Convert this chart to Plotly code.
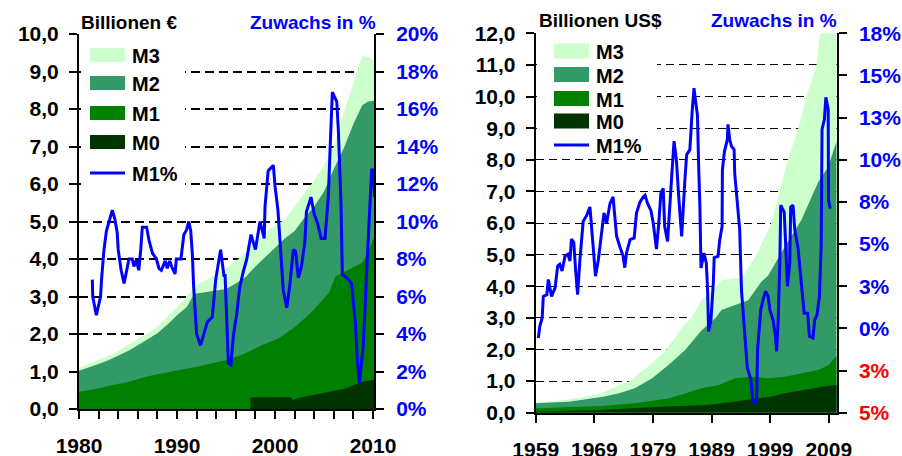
import plotly.graph_objects as go

W, H = 902, 456
FONT = "Liberation Sans"
BLUE = "#0000FF"

# ---------------- Euro area (left panel), Billionen EUR ----------------
eu_m3_years = [1980, 1981, 1982, 1983, 1984, 1985, 1986, 1987, 1988, 1989, 1990, 1991,
               1992, 1993, 1994, 1995, 1996, 1997, 1998, 1999, 2000, 2001, 2002, 2003,
               2004, 2005, 2006, 2007, 2008, 2008.4, 2008.9, 2009.5, 2010.1]
eu_m3 = [1.10, 1.20, 1.32, 1.42, 1.55, 1.70, 1.85, 2.02, 2.20, 2.45, 2.72, 3.00,
         3.30, 3.45, 3.60, 3.75, 3.95, 4.15, 4.45, 4.72, 4.90, 5.05, 5.40, 5.75,
         6.10, 6.50, 7.00, 7.90, 8.70, 9.05, 9.42, 9.38, 9.30]

eu_m2_years = [1980, 1981, 1982, 1983, 1984, 1985, 1986, 1987, 1988, 1989, 1990, 1991,
               1991.7, 1992, 1993, 1994, 1995, 1996, 1997, 1998, 1999, 2000, 2001, 2002,
               2003, 2004, 2005, 2006, 2007, 2008, 2008.9, 2009.5, 2010.1]
eu_m2 = [1.02, 1.10, 1.20, 1.30, 1.42, 1.55, 1.70, 1.85, 2.02, 2.25, 2.50, 2.72,
         3.05, 3.08, 3.12, 3.15, 3.20, 3.35, 3.52, 3.80, 4.05, 4.30, 4.55, 4.75,
         5.10, 5.40, 5.80, 6.40, 6.95, 7.60, 8.10, 8.20, 8.22]

eu_m1_years = [1980, 1982, 1983.4, 1985, 1986.8, 1988, 1990.2, 1992, 1993.6, 1995.3,
               1997, 1998.7, 2000.4, 2002.1, 2003.8, 2005.5, 2006.2, 2007.2, 2008.9,
               2009.6, 2010.1]
eu_m1 = [0.46, 0.55, 0.64, 0.72, 0.86, 0.93, 1.04, 1.13, 1.22, 1.32,
         1.49, 1.71, 1.89, 2.20, 2.60, 3.10, 3.54, 3.67, 3.90,
         4.25, 4.60]

eu_m0_years = [1997.5, 2000.4, 2001.6, 2001.8, 2002.5, 2003.8, 2005.5, 2007.2, 2008.9, 2010.1]
eu_m0 = [0.31, 0.33, 0.32, 0.24, 0.30, 0.37, 0.46, 0.55, 0.73, 0.78]

eu_m1pct_years = [
    1981.36, 1981.4, 1981.77, 1982.2, 1982.3, 1982.55, 1982.8, 1983.06, 1983.4, 1983.67,
    1983.9, 1984.0, 1984.3, 1984.6, 1984.8, 1985.1, 1985.44, 1985.6, 1985.85, 1986.1,
    1986.3, 1986.46, 1986.9, 1987.14, 1987.5, 1987.9, 1988.16, 1988.4, 1988.8, 1989.0,
    1989.25, 1989.45, 1989.8, 1989.93, 1990.4, 1990.7, 1990.97, 1991.2, 1991.4, 1991.56,
    1991.7, 1992.0, 1992.4, 1992.76, 1993.1, 1993.6, 1993.95, 1994.45, 1994.8, 1994.9,
    1995.24, 1995.5, 1995.75, 1996.1, 1996.4, 1996.8, 1997.1, 1997.55, 1998.0, 1998.47,
    1998.9, 1998.98, 1999.3, 1999.83, 2000.0, 2000.3, 2000.6, 2000.84, 2001.2, 2001.53,
    2001.87, 2002.1, 2002.38, 2002.7, 2003.06, 2003.2, 2003.67, 2004.0, 2004.35, 2004.7,
    2005.1, 2005.44, 2005.6, 2005.85, 2006.3, 2006.46, 2006.73, 2006.87, 2007.5, 2007.8,
    2008.2, 2008.4, 2008.6, 2009.0, 2009.36, 2009.7, 2009.86, 2010.03, 2010.15]
eu_m1pct = [
    6.9, 6.0, 5.0, 6.0, 6.9, 8.5, 9.5, 10.0, 10.6, 10.1,
    9.4, 8.5, 7.4, 6.7, 7.2, 8.0, 8.0, 7.6, 7.95, 7.4,
    8.5, 9.7, 9.7, 9.0, 8.3, 8.0, 7.5, 7.4, 7.9, 7.5,
    7.9, 7.6, 7.2, 8.0, 8.0, 9.3, 9.55, 10.0, 9.5, 8.3,
    6.5, 4.0, 3.4, 4.0, 4.65, 4.9, 6.9, 8.5, 7.05, 7.2,
    2.44, 2.35, 3.9, 5.1, 6.5, 7.4, 7.95, 9.3, 8.5, 10.0,
    9.1, 10.8, 12.7, 13.0, 11.9, 10.6, 8.1, 6.35, 5.4, 6.7,
    8.5, 8.4, 7.0, 7.6, 9.0, 10.5, 11.3, 10.4, 9.9, 9.1,
    9.1, 11.3, 13.6, 16.9, 16.4, 14.9, 11.0, 7.2, 6.9, 6.7,
    4.6, 2.6, 1.4, 3.3, 7.4, 11.0, 12.8, 12.7, 11.3]

# ---------------- USA (right panel), Billionen US$ ----------------
us_m3_years = [1959, 1964.6, 1967.4, 1970.25, 1973.1, 1975.1, 1978.8, 1981.3, 1984.5,
               1985.6, 1987.3, 1989.6, 1990.7, 1993, 1994.1, 1995.8, 1996.7, 1999.2,
               2000.6, 2002.0, 2003.8, 2005.2, 2006.9, 2007.5, 2008.9, 2010.35]
us_m3 = [0.32, 0.42, 0.50, 0.61, 0.87, 1.00, 1.56, 2.00, 2.82,
         3.00, 3.56, 3.95, 4.19, 4.25, 4.25, 4.72, 5.00, 6.00,
         7.00, 8.00, 9.00, 10.0, 11.0, 12.0, 13.6, 14.0]

us_m2_years = [1959, 1964.6, 1970.25, 1973.1, 1975.9, 1978.8, 1981.6, 1984.5, 1987.3,
               1989.6, 1990.7, 1993, 1995.25, 1997.5, 1998.7, 2001.5, 2004.3, 2007.2,
               2008.9, 2010.35]
us_m2 = [0.30, 0.35, 0.50, 0.61, 0.77, 1.08, 1.50, 1.98, 2.61,
         2.98, 3.25, 3.40, 3.56, 4.14, 4.35, 5.25, 6.09, 7.30,
         7.78, 8.60]

us_m1_years = [1959, 1970.25, 1975.9, 1981.6, 1984.5, 1987.3, 1990.1, 1993, 1995.8,
               1998.7, 2001.5, 2004.3, 2007.2, 2008.9, 2010.35]
us_m1 = [0.14, 0.21, 0.30, 0.45, 0.61, 0.77, 0.87, 1.09, 1.14,
         1.09, 1.14, 1.24, 1.35, 1.50, 1.80]

us_m0_years = [1959, 1969, 1978.7, 1988.7, 1994, 1999.6, 2001, 2004.6, 2007.2, 2008.9, 2010.35]
us_m0 = [0.04, 0.08, 0.17, 0.25, 0.38, 0.52, 0.60, 0.73, 0.80, 0.85, 0.88]

us_m1pct_years = [
    1959.45, 1959.7, 1960.1, 1960.3, 1960.9, 1961.15, 1961.7, 1962.3, 1962.75, 1963.1,
    1963.5, 1964.0, 1964.5, 1964.85, 1965.1, 1965.5, 1965.8, 1966.15, 1966.55, 1967.1,
    1967.7, 1968.25, 1968.65, 1969.0, 1969.2, 1969.7, 1970.25, 1970.65, 1971.1, 1971.67,
    1972.2, 1972.5, 1972.8, 1973.4, 1973.9, 1974.2, 1974.5, 1975.1, 1975.8, 1976.2,
    1976.8, 1977.35, 1977.65, 1978.1, 1978.65, 1979.05, 1979.6, 1980.0, 1980.35, 1980.75,
    1981.0, 1981.5, 1981.9, 1982.2, 1982.6, 1983.0, 1983.4, 1983.9, 1984.45, 1984.75,
    1985.3, 1985.5, 1985.7, 1986.0, 1986.6, 1986.8, 1987.0, 1987.2, 1987.7, 1988.1,
    1988.3, 1988.5, 1988.9, 1989.3, 1989.45, 1990.1, 1990.4, 1990.8, 1990.85, 1991.2,
    1991.7, 1991.8, 1992.1, 1992.4, 1992.85, 1992.95, 1993.4, 1993.8, 1994.1, 1994.55,
    1994.8, 1995.1, 1995.7, 1996.0, 1996.4, 1996.7, 1996.85, 1997.1, 1997.4, 1997.8,
    1998.2, 1998.65, 1998.95, 1999.5, 1999.9, 2000.1, 2000.35, 2000.65, 2000.8, 2001.4,
    2001.6, 2001.95, 2002.35, 2002.5, 2002.9, 2003.2, 2003.75, 2004.2, 2004.6, 2004.8,
    2005.4, 2005.7, 2006.3, 2006.6, 2007.0, 2007.4, 2007.7, 2007.85, 2008.25, 2008.5,
    2008.9, 2008.95, 2009.25]
us_m1pct = [
    -0.57, 0.12, 0.62, 1.9, 2.0, 2.9, 1.9, 2.4, 3.7, 3.8,
    3.4, 4.3, 4.4, 4.0, 5.3, 5.1, 3.5, 2.0, 4.1, 6.35,
    6.7, 7.2, 5.5, 4.1, 3.1, 4.1, 5.66, 6.85, 6.25, 7.4,
    7.8, 6.6, 5.46, 4.8, 4.3, 3.6, 4.5, 5.26, 5.36, 6.85,
    7.5, 7.8, 7.9, 7.4, 7.0, 6.25, 4.7, 6.25, 8.0, 8.3,
    6.05, 5.16, 7.6, 9.0, 11.1, 10.0, 7.8, 5.46, 8.8, 10.3,
    10.6, 11.9, 12.9, 14.25, 12.6, 9.6, 7.4, 3.58, 4.47, 3.88,
    2.5, -0.18, 0.52, 2.7, 4.2, 4.27, 5.26, 6.05, 9.4, 10.5,
    11.2, 12.1, 11.2, 10.8, 10.6, 9.2, 7.5, 5.85, 2.3, 0.12,
    -0.87, -2.35, -3.0, -4.2, -4.4, -4.2, -1.26, -0.08, 1.1, 1.7,
    2.2, 1.9, 1.1, 0.5, -0.47, -1.36, 0.32, 3.9, 7.3, 6.9,
    5.06, 2.5, 3.9, 7.2, 7.3, 5.85, 4.77, 3.1, 1.9, 0.9,
    0.9, -0.47, -0.57, 0.5, 0.8, 1.9, 4.86, 11.8, 12.4, 13.7,
    13.0, 7.6, 7.1]

us_pct_ticks = [-5, -2.5, 0, 2.5, 5, 7.5, 10, 12.5, 15, 17.5]
us_pct_labels = ["<span style='color:#FF0000'>5%</span>",
                 "<span style='color:#FF0000'>3%</span>",
                 "0%", "3%", "5%", "8%", "10%", "13%", "15%", "18%"]

series_names = ["M3", "M2", "M1", "M0"]
series_colors = ["#CCFFCC", "#339966", "#008000", "#003300"]


def px(x):
    return x / W


def py(y):
    return 1 - y / H


fig = go.Figure()

eu_sets = [(eu_m3_years, eu_m3), (eu_m2_years, eu_m2), (eu_m1_years, eu_m1), (eu_m0_years, eu_m0)]
us_sets = [(us_m3_years, us_m3), (us_m2_years, us_m2), (us_m1_years, us_m1), (us_m0_years, us_m0)]

# areas, each filled down to zero, biggest first so the smaller ones sit on top
for (xs, ys), name, col in zip(eu_sets, series_names, series_colors):
    fig.add_trace(go.Scatter(x=xs, y=ys, name=name, mode="lines", fill="tozeroy",
                             fillcolor=col, line=dict(width=0, color=col),
                             xaxis="x", yaxis="y", showlegend=False, hoverinfo="skip"))
fig.add_trace(go.Scatter(x=eu_m1pct_years, y=eu_m1pct, name="M1%", mode="lines",
                         line=dict(color=BLUE, width=3), xaxis="x", yaxis="y2",
                         showlegend=False))

for (xs, ys), name, col in zip(us_sets, series_names, series_colors):
    fig.add_trace(go.Scatter(x=xs, y=ys, name=name, mode="lines", fill="tozeroy",
                             fillcolor=col, line=dict(width=0, color=col),
                             xaxis="x2", yaxis="y3", showlegend=False, hoverinfo="skip"))
fig.add_trace(go.Scatter(x=us_m1pct_years, y=us_m1pct, name="M1%", mode="lines",
                         line=dict(color=BLUE, width=3), xaxis="x2", yaxis="y4",
                         showlegend=False))

tick_font = dict(family=FONT, size=21, color="black", weight="bold")
blue_font = dict(family=FONT, size=21, color=BLUE, weight="bold")

common_x = dict(showline=True, linecolor="black", linewidth=2, ticks="outside",
                ticklen=8, tickwidth=2, tickcolor="black", showgrid=False,
                zeroline=False, tickfont=tick_font, ticklabelstandoff=9,
                automargin=False)
common_y = dict(showline=True, linecolor="black", linewidth=2, ticks="outside",
                ticklen=8, tickwidth=2, tickcolor="black", zeroline=False,
                automargin=False)

fig.update_layout(
    width=W, height=H,
    margin=dict(l=0, r=0, t=0, b=0, autoexpand=False),
    paper_bgcolor="white", plot_bgcolor="white",
    separators=",.",
    showlegend=False,
    xaxis=dict(domain=[px(79), px(374)], anchor="y", range=[1980, 2010.1],
               tickmode="linear", tick0=1980, dtick=10,
               minor=dict(dtick=2, tick0=1980, ticks="outside", ticklen=8,
                          tickwidth=2, tickcolor="black", showgrid=False),
               **common_x),
    yaxis=dict(domain=[py(409), py(34)], anchor="x", range=[0, 10], dtick=1,
               tickformat=".1f", showgrid=True, gridcolor="black", gridwidth=2,
               griddash="9px,5px", tickfont=tick_font, ticklabelstandoff=6, **common_y),
    yaxis2=dict(overlaying="y", side="right", anchor="x", range=[0, 20], dtick=2,
                ticksuffix="%", showgrid=False, tickfont=blue_font,
                ticklabelstandoff=8, **common_y),
    xaxis2=dict(domain=[px(535.7), px(836.7)], anchor="y3", range=[1959, 2010.35],
                tickmode="linear", tick0=1959, dtick=10, **common_x),
    yaxis3=dict(domain=[py(412.7), py(33.3)], anchor="x2", range=[0, 12], dtick=1,
                tickformat=".1f", showgrid=True, gridcolor="black", gridwidth=1,
                griddash="8px,5px", tickfont=tick_font, ticklabelstandoff=6, **common_y),
    yaxis4=dict(overlaying="y3", side="right", anchor="x2", range=[-5, 17.5],
                tickmode="array", tickvals=us_pct_ticks, ticktext=us_pct_labels,
                showgrid=False, tickfont=blue_font, ticklabelstandoff=8, **common_y),
)

# axis headings
head_black = dict(family=FONT, size=19, color="black", weight="bold")
head_blue = dict(family=FONT, size=19, color=BLUE, weight="bold")
fig.add_annotation(x=px(79), y=py(22), xref="paper", yref="paper", text="Billionen €",
                   showarrow=False, xanchor="left", yanchor="middle", font=head_black)
fig.add_annotation(x=px(378), y=py(22), xref="paper", yref="paper", text="Zuwachs in %",
                   showarrow=False, xanchor="right", yanchor="middle", font=head_blue)
fig.add_annotation(x=px(537), y=py(20), xref="paper", yref="paper", text="Billionen US$",
                   showarrow=False, xanchor="left", yanchor="middle", font=head_black)
fig.add_annotation(x=px(839), y=py(20), xref="paper", yref="paper", text="Zuwachs in %",
                   showarrow=False, xanchor="right", yanchor="middle", font=head_blue)


# hand-made legends (white box covering the grid, swatches, labels)
def add_legend(box, sw_x, label_x, centers, line_y, sw_h):
    x0, y0, x1, y1 = box
    fig.add_shape(type="rect", xref="paper", yref="paper", layer="above",
                  x0=px(x0), x1=px(x1), y0=py(y1), y1=py(y0),
                  fillcolor="white", line=dict(width=0))
    lab_font = dict(family=FONT, size=20, color="black", weight="bold")
    for name, col, cy in zip(series_names, series_colors, centers):
        fig.add_shape(type="rect", xref="paper", yref="paper", layer="above",
                      x0=px(sw_x), x1=px(sw_x + 35), y0=py(cy + sw_h / 2), y1=py(cy - sw_h / 2),
                      fillcolor=col, line=dict(width=0))
        fig.add_annotation(x=px(label_x), y=py(cy + 1), xref="paper", yref="paper", text=name,
                           showarrow=False, xanchor="left", yanchor="middle", font=lab_font)
    fig.add_shape(type="line", xref="paper", yref="paper", layer="above",
                  x0=px(sw_x), x1=px(sw_x + 35), y0=py(line_y), y1=py(line_y),
                  line=dict(color=BLUE, width=3))
    fig.add_annotation(x=px(label_x), y=py(line_y + 1), xref="paper", yref="paper", text="M1%",
                       showarrow=False, xanchor="left", yanchor="middle", font=lab_font)


add_legend((81, 37, 185, 194), 90, 130, [55, 83, 113, 142], 173, 14)
add_legend((537, 36, 657, 152), 554, 594, [51, 74.5, 98.5, 121], 145, 15)

# the page body has a default 8px margin; drop it so the figure sits at (0, 0)
fig.write_html("out.html", config={"displayModeBar": False},
               post_script="document.body.style.margin='0px';")
